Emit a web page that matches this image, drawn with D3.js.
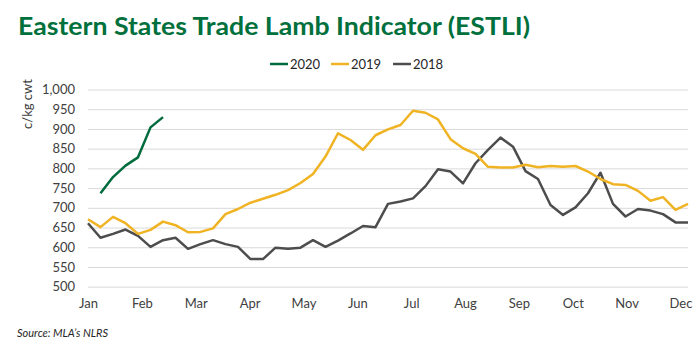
<!DOCTYPE html>
<html>
<head>
<meta charset="utf-8">
<script src="https://cdn.jsdelivr.net/npm/d3@7"></script>
<style>
  body { margin: 0; background: #fff; }
  text { font-family: Lato, "Open Sans", sans-serif; }
</style>
</head>
<body>
<div id="chart"></div>
<script>
// weekly values, c/kg cwt
const months = ["Jan", "Feb", "Mar", "Apr", "May", "Jun", "Jul", "Aug", "Sep", "Oct", "Nov", "Dec"];
const yTicks = [500, 550, 600, 650, 700, 750, 800, 850, 900, 950, 1000];

const s2020 = [null, 737, 778, 807, 828, 904, 930];
const s2019 = [671, 651, 677, 661, 634, 644, 665, 656, 638, 639, 648, 684, 697, 713, 723, 733,
    745, 763, 786, 830, 889, 872, 847, 884, 899, 910, 946, 941, 924, 874, 851, 837, 804, 802,
    802, 809, 803, 806, 804, 806, 792, 773, 760, 758, 743, 718, 727, 695, 710];
const s2018 = [661, 624, 634, 645, 629, 601, 618, 624, 596, 608, 618, 608, 601, 570, 570, 599,
    596, 599, 618, 601, 617, 635, 654, 651, 710, 716, 724, 755, 798, 792, 762, 813, 847, 878,
    855, 793, 773, 707, 682, 701, 737, 789, 710, 678, 697, 693, 684, 663, 663];

const series = [
    { name: "2020", values: s2020, color: "#006b3c" },
    { name: "2019", values: s2019, color: "#f0b323" },
    { name: "2018", values: s2018, color: "#4d4d4d" }
];

const W = 700, H = 353;
const svg = d3.select("#chart").append("svg")
    .attr("width", W)
    .attr("height", H);

const x = d3.scaleLinear().domain([0, 48]).range([88, 688]);
const y = d3.scaleLinear().domain([500, 1000]).range([286.7, 89.5]);

// title
svg.append("text")
    .attr("x", 18)
    .attr("y", 35)
    .attr("textLength", 512)
    .attr("lengthAdjust", "spacingAndGlyphs")
    .style("font-size", "25px")
    .style("font-weight", "bold")
    .style("fill", "#00703c")
    .text("Eastern States Trade Lamb Indicator (ESTLI)");

// legend
const legendPos = [270, 331, 393];
series.forEach(function (s, i) {
    const lx = legendPos[i];
    svg.append("line")
        .attr("x1", lx).attr("x2", lx + 18)
        .attr("y1", 64).attr("y2", 64)
        .attr("stroke", s.color)
        .attr("stroke-width", 2.5);
    svg.append("text")
        .attr("x", lx + 20)
        .attr("y", 64)
        .attr("dominant-baseline", "central")
        .style("font-size", "13px")
        .style("fill", "#262626")
        .text(s.name);
});

// y axis + gridlines
const yAxis = svg.append("g")
    .attr("transform", "translate(88,0)")
    .call(d3.axisLeft(y).tickValues(yTicks).tickSize(-600).tickPadding(13).tickFormat(d3.format(",")));
yAxis.select(".domain").remove();
yAxis.selectAll("line").attr("stroke", "#d9d9d9").attr("stroke-width", 1);
yAxis.selectAll("text").style("font-size", "13px").style("fill", "#404040")
    .style("font-family", "Lato, sans-serif");

// x axis (month labels)
const monthStep = 47.4 / 11;
const xAxis = svg.append("g")
    .attr("transform", "translate(0,293)")
    .call(d3.axisBottom(x).tickValues(months.map((m, i) => i * monthStep))
        .tickSize(0).tickPadding(6).tickFormat((d, i) => months[i]));
xAxis.select(".domain").remove();
xAxis.selectAll("text").style("font-size", "13px").style("fill", "#404040")
    .style("font-family", "Lato, sans-serif");

// y axis title
svg.append("text")
    .attr("transform", "translate(32,104) rotate(-90)")
    .attr("text-anchor", "middle")
    .style("font-size", "13px")
    .style("fill", "#404040")
    .text("c/kg cwt");

// lines
const line = d3.line()
    .defined(d => d != null)
    .x((d, i) => x(i))
    .y(d => y(d));

series.slice().reverse().forEach(function (s) {
    svg.append("path")
        .datum(s.values)
        .attr("fill", "none")
        .attr("stroke", s.color)
        .attr("stroke-width", 2.5)
        .attr("stroke-linejoin", "round")
        .attr("d", line);
});

// source
svg.append("text")
    .attr("x", 17)
    .attr("y", 337)
    .style("font-size", "11px")
    .style("font-style", "italic")
    .style("fill", "#262626")
    .text("Source: MLA\u2019s NLRS");
</script>
</body>
</html>
